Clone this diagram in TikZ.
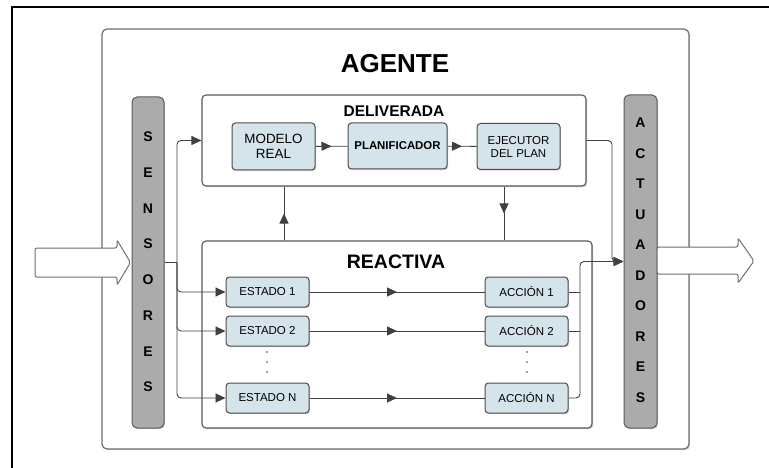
\documentclass[tikz,border=0pt]{standalone}
\usepackage{fontspec}
\setmainfont{Liberation Sans}
\usetikzlibrary{arrows.meta,shadows,decorations.markings,calc}
\definecolor{boxfill}{HTML}{D5E3EB}
\definecolor{boxdraw}{HTML}{4D4D4D}
\definecolor{bardraw}{HTML}{5A5A5A}
\definecolor{barfill}{HTML}{ABABAB}
\definecolor{linecol}{HTML}{404040}
\definecolor{framecol}{HTML}{6E6E6E}
\tikzset{
 myshadow/.style={drop shadow={shadow xshift=1.2pt,shadow yshift=-1.2pt,opacity=0.35}},
 agentbox/.style={draw=framecol, fill=white, line width=1.2pt, rounded corners=5pt, myshadow, inner sep=0pt},
 panel/.style={draw=framecol!80!black, fill=white, line width=1.1pt, rounded corners=4pt, myshadow, inner sep=0pt},
 blockbox/.style={draw=boxdraw, fill=boxfill, line width=1pt, rounded corners=3.5pt, inner sep=0pt, align=center, font=\fontsize{11.5}{13}\selectfont, myshadow},
 bar/.style={draw=bardraw, fill=barfill, line width=1pt, rounded corners=5pt, inner sep=0pt, myshadow},
 conn/.style={draw=linecol, line width=0.9pt},
 endarr/.style={conn, -{Triangle[length=10pt,width=9pt]}},
 midarr/.style={conn, postaction={decorate}, decoration={markings, mark=at position 0.5 with {\arrow[linecol]{Triangle[length=10pt,width=9pt]}}}},
 fatarrow/.style={draw=framecol, fill=white, line width=1pt, rounded corners=2pt},
 letter/.style={font=\bfseries\fontsize{14}{16}\selectfont, inner sep=0pt},
 title/.style={font=\bfseries, inner sep=0pt},
}
\begin{document}
\begin{tikzpicture}[x=1pt,y=-1pt]
\useasboundingbox (0,0) rectangle (769,468);
% frame
\draw[line width=2pt] (12,468) -- (12,7) -- (769,7);
% agent
\node[agentbox, minimum width=587pt, minimum height=420pt] (agent) at (395.5,239) {};
\node[title, font=\bfseries\fontsize{26}{30}\selectfont] (agtitle) at (395,64) {AGENTE};
% bars
\node[bar, minimum width=32pt, minimum height=331pt] (sens) at (148,262.5) {};
\node[bar, minimum width=33pt, minimum height=333pt] (act) at (640.5,261.5) {};
\foreach \l [count=\i from 0] in {S,E,N,S,O,R,E,S}
  \node[letter] (s\i) at (148,{137+35.7*\i}) {\l};
\foreach \l [count=\i from 0] in {A,C,T,U,A,D,O,R,E,S}
  \node[letter] (t\i) at (640.5,{123+30.5*\i}) {\l};
% panels
\node[panel, minimum width=384pt, minimum height=91pt] (delib) at (394,140.5) {};
\node[title, font=\bfseries\fontsize{15.5}{18}\selectfont] (dtitle) at (394,111) {DELIVERADA};
\node[panel, minimum width=390pt, minimum height=187pt] (react) at (397,334.5) {};
\node[title, font=\bfseries\fontsize{19.5}{22}\selectfont] (rtitle) at (396,262) {REACTIVA};
% deliberative blocks
\node[blockbox, minimum width=83pt, minimum height=47pt, font=\fontsize{13.4}{15}\selectfont] (mod) at (273.5,146.5) {MODELO\\REAL};
\node[blockbox, minimum width=99pt, minimum height=46pt, font=\bfseries\fontsize{11.4}{13}\selectfont] (plan) at (397.5,146) {PLANIFICADOR};
\node[blockbox, minimum width=83pt, minimum height=46pt] (ejec) at (518.5,146.5) {EJECUTOR\\DEL PLAN};
% reactive blocks
\node[blockbox, minimum width=83pt, minimum height=30pt] (e1) at (267.5,292) {ESTADO 1};
\node[blockbox, minimum width=83pt, minimum height=30pt] (e2) at (267.5,331) {ESTADO 2};
\node[blockbox, minimum width=83pt, minimum height=30pt] (eN) at (267.5,398) {ESTADO N};
\node[blockbox, minimum width=83pt, minimum height=30pt] (a1) at (526.5,292) {ACCIÓN 1};
\node[blockbox, minimum width=83pt, minimum height=30pt] (a2) at (526.5,331) {ACCIÓN 2};
\node[blockbox, minimum width=83pt, minimum height=30pt] (aN) at (526.5,398) {ACCIÓN N};
% dots
\foreach \y in {352,362,372} {
  \fill[linecol] (267,\y) circle (0.9);
  \fill[linecol] (527,\y) circle (0.9);
}
% connectors inside
\draw[midarr] (mod) -- (plan);
\draw[midarr] (plan) -- (ejec);
\draw[midarr] (e1) -- (a1);
\draw[midarr] (e2) -- (a2);
\draw[midarr] (eN) -- (aN);
\coordinate (ux) at (284,0);
\coordinate (dx) at (504,0);
\draw[midarr] (ux |- react.north) -- (ux |- delib.south);
\draw[midarr] (dx |- delib.south) -- (dx |- react.north);
% sensors
\coordinate (sj) at (177,262.5);
\draw[conn] (sens.east) -- (sj);
\draw[endarr, rounded corners=4pt] (sj) |- (delib.west);
\draw[endarr, rounded corners=4pt] (sj) |- (e1.west);
\draw[endarr, rounded corners=4pt] (sj) |- (e2.west);
\draw[endarr, rounded corners=4pt] (sj) |- (eN.west);
% actuators
\coordinate (aj) at (580,261.5);
\coordinate (ej) at (612,140.5);
\draw[conn] (a1.east) -- (a1.east -| aj);
\draw[conn] (a2.east) -- (a2.east -| aj);
\draw[endarr, rounded corners=4pt] (aN.east) -| (aj) -- (act.west);
\draw[endarr, rounded corners=4pt] (delib.east) -- (ej) |- (act.west);
% fat arrows
\draw[fatarrow] (35,248) -- (117,248) -- (117,240) -- (130.5,262.5) -- (117,285) -- (117,277) -- (35,277) -- cycle;
\draw[fatarrow] (657,247) -- (738,247) -- (738,238) -- (754,261) -- (738,283) -- (738,274) -- (657,274) -- cycle;
\end{tikzpicture}
\end{document}
